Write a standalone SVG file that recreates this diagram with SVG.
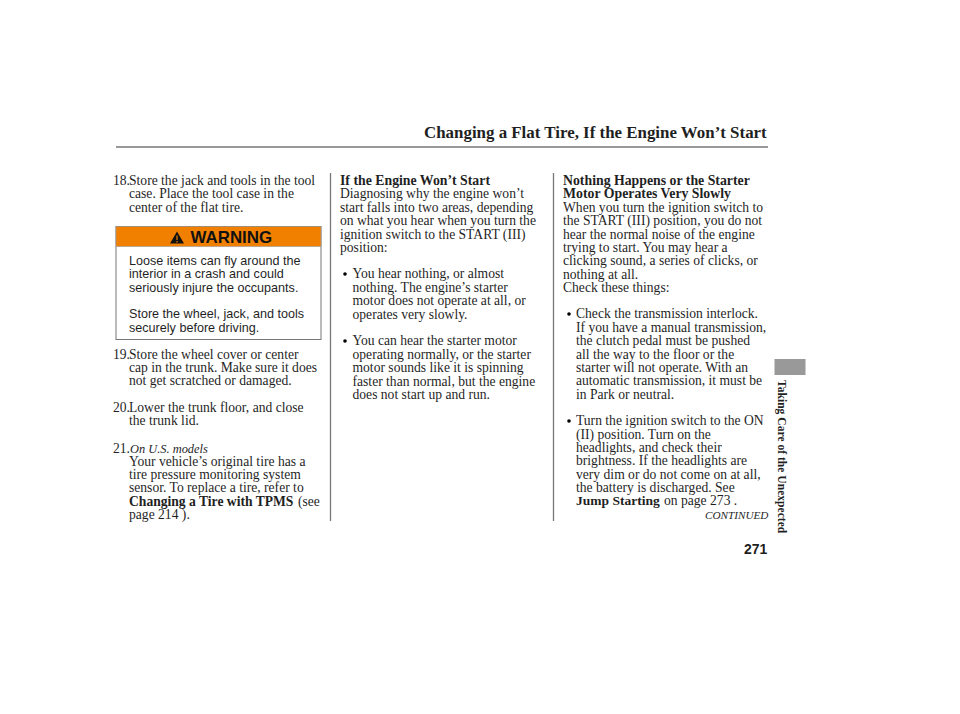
<svg xmlns="http://www.w3.org/2000/svg" width="960" height="714" viewBox="0 0 960 714">
<style>
text{font-family:"Liberation Serif",serif;font-size:13.6px;fill:#1f1f1f}
.b{font-weight:bold;font-size:13.8px}
.i{font-style:italic}
.s{font-family:"Liberation Sans",sans-serif;font-size:12.6px}
.r{stroke:#777;stroke-width:1.3;fill:none}
</style>
<rect width="960" height="714" fill="#fff"/>
<g id="rules"><line class="r" x1="116" y1="147" x2="768" y2="147"/><line class="r" x1="330.500" y1="173" x2="330.500" y2="521"/><line class="r" x1="553.500" y1="173" x2="553.500" y2="521"/></g>
<text class="b" x="424" y="138" style="font-size:16.9px">Changing a Flat Tire, If the Engine Won’t Start</text>
<g id="col1">
<text x="113" y="185">18.</text><text x="129" y="185">Store the jack and tools in the tool</text><text x="129" y="198.400">case. Place the tool case in the</text><text x="129" y="211.800">center of the flat tire.</text>
<g id="warning"><rect x="116" y="226.500" width="205" height="113" fill="#fff" stroke="#777"/><rect x="116" y="226.500" width="205" height="20" fill="#f28000" stroke="#999" stroke-width="0.6"/>
<text class="s" x="190.500" y="243" style="font-size:16.9px;font-weight:bold;fill:#111">WARNING</text><path d="M177 231.500L184 243.500H170Z" fill="#111"/><path d="M177 235.500V240M177 241V242.500" stroke="#f28000" stroke-width="1.200"/>
<text class="s" x="129" y="265">Loose items can fly around the</text><text class="s" x="129" y="278.400">interior in a crash and could</text><text class="s" x="129" y="291.800">seriously injure the occupants.</text><text class="s" x="129" y="318.400">Store the wheel, jack, and tools</text><text class="s" x="129" y="331.800">securely before driving.</text></g>
<text x="113" y="358.500">19.</text><text x="129" y="358.500">Store the wheel cover or center</text><text x="129" y="371.900">cap in the trunk. Make sure it does</text><text x="129" y="385.300">not get scratched or damaged.</text>
<text x="113" y="412">20.</text><text x="129" y="412">Lower the trunk floor, and close</text><text x="129" y="425.400">the trunk lid.</text>
<text x="113" y="452.500">21.</text><text class="i" x="130" y="452.500" style="font-size:12.400px">On U.S. models</text>
<text x="129" y="465.800">Your vehicle’s original tire has a</text><text x="129" y="479.100">tire pressure monitoring system</text><text x="129" y="492.400">sensor. To replace a tire, refer to</text><text class="b" x="129" y="505.700" style="font-size:13.600px">Changing a Tire with TPMS</text><text x="298" y="505.700">(see</text><text x="129" y="519">page 214 ).</text>
</g>
<g id="col2">
<text class="b" x="340" y="185">If the Engine Won’t Start</text>
<text x="340" y="198.400">Diagnosing why the engine won’t</text><text x="340" y="211.800">start falls into two areas, depending</text><text x="340" y="225.200">on what you hear when you turn the</text><text x="340" y="238.600">ignition switch to the START (III)</text><text x="340" y="252">position:</text>
<circle cx="345" cy="274" r="1.800"/><text x="352.500" y="278.400">You hear nothing, or almost</text><text x="352.500" y="291.800">nothing. The engine’s starter</text><text x="352.500" y="305.200">motor does not operate at all, or</text><text x="352.500" y="318.600">operates very slowly.</text>
<circle cx="345" cy="341" r="1.800"/><text x="352.500" y="345.300">You can hear the starter motor</text><text x="352.500" y="358.700">operating normally, or the starter</text><text x="352.500" y="372.100">motor sounds like it is spinning</text><text x="352.500" y="385.500">faster than normal, but the engine</text><text x="352.500" y="398.900">does not start up and run.</text>
</g>
<g id="col3">
<text class="b" x="563" y="185">Nothing Happens or the Starter</text><text class="b" x="563" y="198.400">Motor Operates Very Slowly</text>
<text x="563" y="211.800">When you turn the ignition switch to</text><text x="563" y="225.200">the START (III) position, you do not</text><text x="563" y="238.600">hear the normal noise of the engine</text><text x="563" y="252">trying to start. You may hear a</text><text x="563" y="265.400">clicking sound, a series of clicks, or</text><text x="563" y="278.800">nothing at all.</text><text x="563" y="292">Check these things:</text>
<circle cx="569" cy="314" r="1.800"/><text x="576" y="318.400">Check the transmission interlock.</text><text x="576" y="331.800">If you have a manual transmission,</text><text x="576" y="345.200">the clutch pedal must be pushed</text><text x="576" y="358.600">all the way to the floor or the</text><text x="576" y="372">starter will not operate. With an</text><text x="576" y="385.400">automatic transmission, it must be</text><text x="576" y="398.800">in Park or neutral.</text>
<circle cx="569" cy="421" r="1.800"/><text x="576" y="425.300">Turn the ignition switch to the ON</text><text x="576" y="438.700">(II) position. Turn on the</text><text x="576" y="452">headlights, and check their</text><text x="576" y="465.300">brightness. If the headlights are</text><text x="576" y="478.700">very dim or do not come on at all,</text><text x="576" y="492">the battery is discharged. See</text><text class="b" x="576" y="505.300" style="font-size:13.500px">Jump Starting</text><text x="664" y="505.300">on page 273 .</text>
<text class="i" x="705" y="519" style="font-size:11.200px">CONTINUED</text>
</g>
<rect x="774.500" y="359" width="31" height="16" fill="#999"/>
<text class="b" transform="translate(778,380) rotate(90)" style="font-size:11.600px">Taking Care of the Unexpected</text>
<text class="s" x="744" y="553.500" style="font-size:14px;font-weight:bold">271</text>
</svg>
